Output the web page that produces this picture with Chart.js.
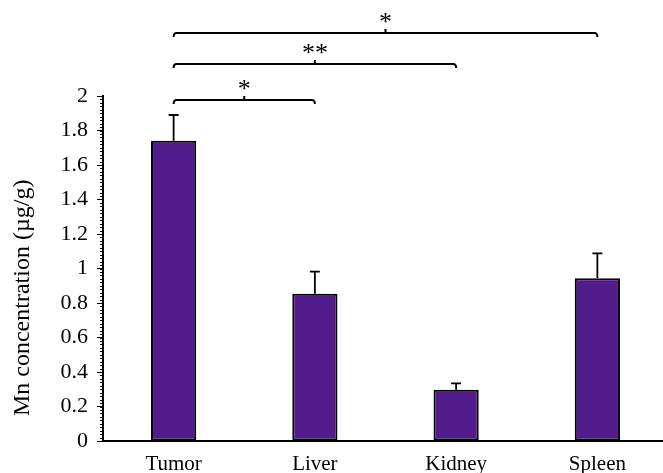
<!DOCTYPE html>
<html>
<head>
<meta charset="utf-8">
<script src="https://cdn.jsdelivr.net/npm/chart.js@4"></script>
<style>
  html, body { margin: 0; padding: 0; background: #fff; overflow: hidden; }
  #wrap { width: 668px; height: 473px; }
</style>
</head>
<body>
<div id="wrap"><canvas id="barChart"></canvas></div>
<script>
const organs = ["Tumor", "Liver", "Kidney", "Spleen"];
const mnValues = [1.74, 0.854, 0.297, 0.943];
const mnErrors = [0.15, 0.128, 0.037, 0.145];
const yTicks = [0, 0.2, 0.4, 0.6, 0.8, 1, 1.2, 1.4, 1.6, 1.8, 2];
const yTitle = "Mn concentration (µg/g)";

// significance brackets: [from, to], level in y units, label
const sigPairs = [[0, 1], [0, 2], [0, 3]];
const sigLevels = [1.977, 2.186, 2.365];
const sigLabels = ["*", "**", "*"];

const serif = "'Liberation Serif', 'Times New Roman', serif";

const extras = {
  id: "extras",
  afterDatasetsDraw(chart) {
    const ctx = chart.ctx;
    const y = chart.scales.y;
    const meta = chart.getDatasetMeta(0);
    ctx.save();
    ctx.strokeStyle = "#000";

    // error bars (upper only)
    ctx.lineWidth = 1.8;
    meta.data.forEach((bar, i) => {
      const top = y.getPixelForValue(mnValues[i] + mnErrors[i]);
      ctx.beginPath();
      ctx.moveTo(bar.x, bar.y);
      ctx.lineTo(bar.x, top);
      ctx.moveTo(bar.x - 5, top);
      ctx.lineTo(bar.x + 5, top);
      ctx.stroke();
    });

    // minor ticks on y axis
    ctx.lineWidth = 1;
    const ax = chart.chartArea.left;
    for (let k = 0; k <= 100; k++) {
      const py = Math.round(y.getPixelForValue(k * 0.02)) + 0.5;
      ctx.beginPath();
      ctx.moveTo(ax - 3, py);
      ctx.lineTo(ax, py);
      ctx.stroke();
    }

    // brackets
    ctx.lineWidth = 2;
    ctx.fillStyle = "#000";
    ctx.font = "26px " + serif;
    ctx.textAlign = "center";
    ctx.textBaseline = "middle";
    sigPairs.forEach((p, i) => {
      const x1 = meta.data[p[0]].x;
      const x2 = meta.data[p[1]].x;
      const by = y.getPixelForValue(sigLevels[i]);
      const mid = (x1 + x2) / 2;
      ctx.beginPath();
      ctx.moveTo(x1, by + 4);
      ctx.quadraticCurveTo(x1, by, x1 + 3, by);
      ctx.lineTo(x2 - 3, by);
      ctx.quadraticCurveTo(x2, by, x2, by + 4);
      ctx.moveTo(mid, by);
      ctx.lineTo(mid, by - 4);
      ctx.stroke();
      ctx.fillText(sigLabels[i], mid, by - 10);
    });

    // y axis title, sitting a bit below the axis middle as in the original
    ctx.font = "24px " + serif;
    ctx.translate(23, y.getPixelForValue(0.83));
    ctx.rotate(-Math.PI / 2);
    ctx.fillText(yTitle, 0, 0);
    ctx.restore();
  }
};

new Chart(document.getElementById("barChart"), {
  type: "bar",
  data: {
    labels: organs,
    datasets: [{
      data: mnValues,
      backgroundColor: "#521c8c",
      borderColor: "#000",
      borderWidth: 2,
      borderSkipped: false,
      categoryPercentage: 1,
      barPercentage: 0.32
    }]
  },
  options: {
    responsive: true,
    maintainAspectRatio: false,
    animation: false,
    layout: { padding: { top: 96, right: 0, bottom: 0, left: 0 } },
    plugins: { legend: { display: false }, tooltip: { enabled: false } },
    scales: {
      x: {
        afterFit: (s) => { s.height = 32; },
        grid: { display: false, drawTicks: false },
        border: { display: true, color: "#000", width: 2 },
        ticks: { color: "#000", font: { family: serif, size: 21 }, padding: 11 }
      },
      y: {
        min: 0,
        max: 2,
        afterFit: (s) => { s.width = 103; },
        afterBuildTicks: (s) => { s.ticks = yTicks.map(v => ({ value: v })); },
        grid: { drawOnChartArea: false, drawTicks: true, tickLength: 6, tickColor: "#000", tickWidth: 1 },
        border: { display: true, color: "#000", width: 2 },
        ticks: {
          color: "#000",
          font: { family: serif, size: 22 },
          padding: 9,
          callback: (v) => String(v)
        }
      }
    }
  },
  plugins: [extras]
});
</script>
</body>
</html>
